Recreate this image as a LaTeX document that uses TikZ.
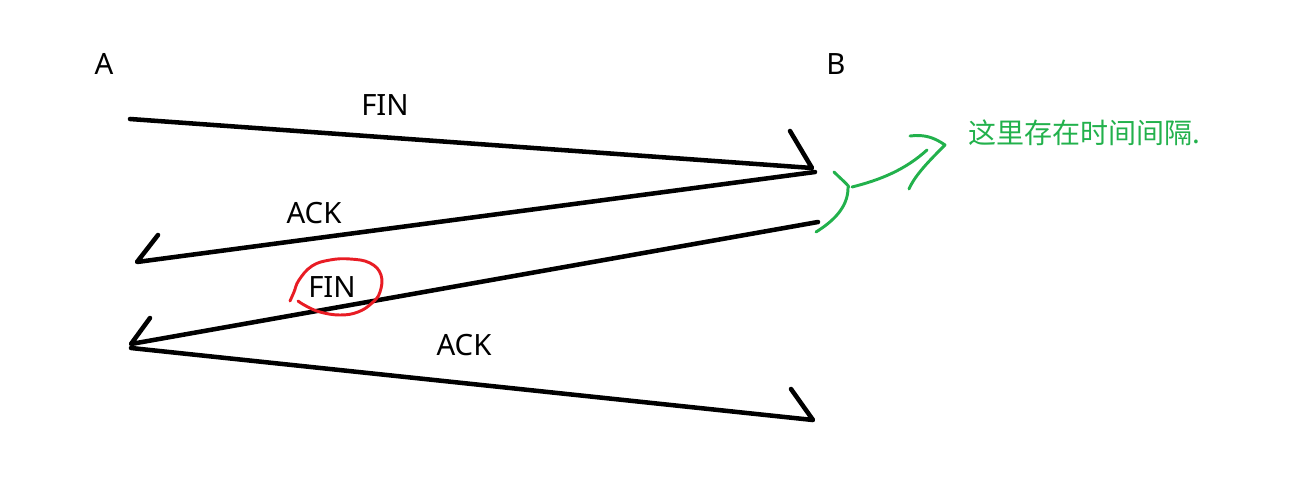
\documentclass[tikz,border=0pt]{standalone}
\usepackage{fontspec}
\setmainfont{Noto Sans}
\newfontfamily\cjk{Noto Sans CJK SC}
\definecolor{mygreen}{HTML}{22B14C}
\definecolor{myred}{HTML}{E81C24}
\begin{document}
\begin{tikzpicture}[x=0.75pt,y=-0.75pt,
  msg/.style={line width=3.4pt,line cap=round,line join=round,black},
  lbl/.style={font=\fontsize{22}{26}\selectfont,inner sep=0pt},
  hand/.style={line width=2.2pt,line cap=round,line join=round}]
\useasboundingbox (0,0) rectangle (1306,488);
% labels
\node[lbl] (A) at (104,64) {A};
\node[lbl] (B) at (836,64) {B};
\node[lbl] (fin1) at (385,105) {FIN};
\node[lbl] (ack1) at (314,213) {ACK};
\node[lbl] (fin2) at (332,287) {FIN};
\node[lbl] (ack2) at (464,345) {ACK};
\node[font=\cjk\fontsize{21}{24}\selectfont,text=mygreen,anchor=west,inner sep=0pt] (note) at (968,133) {这里存在时间间隔.};
% coordinates
\coordinate (a1) at (130,119);
\coordinate (b1) at (812,168);
\coordinate (h1) at (790,131);
\coordinate (b2) at (815,172);
\coordinate (a2) at (137,262);
\coordinate (h2) at (158,235);
\coordinate (b3) at (818,222);
\coordinate (a3) at (131,344);
\coordinate (h3) at (150,318);
\coordinate (a4) at (131,348);
\coordinate (b4) at (813,420);
\coordinate (h4) at (791,389);
% messages
\draw[msg] (a1) -- (b1) -- (h1);
\draw[msg] (b2) -- (a2) -- (h2);
\draw[msg] (b3) -- (a3) -- (h3);
\draw[msg] (a4) -- (b4) -- (h4);
% red circle around FIN
\draw[hand,myred] plot[smooth,tension=0.7] coordinates {(290,301) (294,292) (299,280) (312,266) (330,260) (350,259) (370,263) (381,275) (380,292) (372,303) (358,312) (340,315) (320,312) (306,306) (298,301)};
% green bracket and arrow
\coordinate (g1) at (834,172);
\coordinate (g2) at (848,188);
\coordinate (g3) at (816,232);
\draw[hand,mygreen] (g1) .. controls (842,180) and (852,188) .. (g2) .. controls (848,208) and (832,222) .. (g3);
\coordinate (s1) at (852,187);
\coordinate (s2) at (927,150);
\draw[hand,mygreen] (s1) .. controls (880,180) and (905,170) .. (s2);
\coordinate (t1) at (910,136);
\coordinate (t2) at (945,145);
\coordinate (t3) at (909,189);
\draw[hand,mygreen] (t1) .. controls (925,134) and (935,138) .. (t2) .. controls (930,160) and (915,175) .. (t3);
\end{tikzpicture}
\end{document}
